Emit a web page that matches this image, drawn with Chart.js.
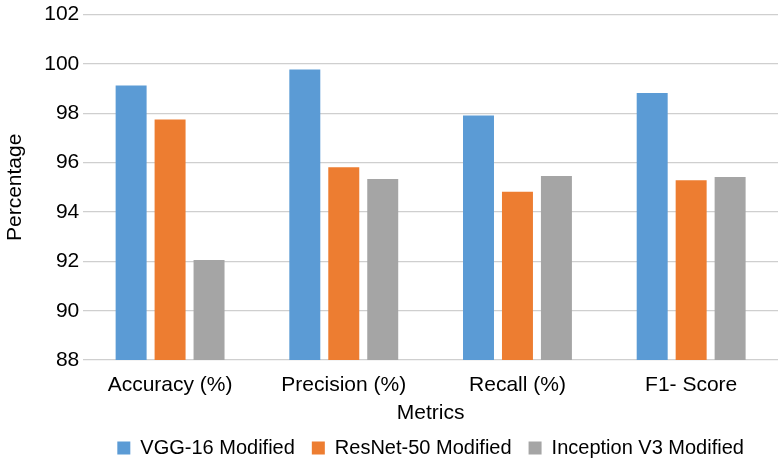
<!DOCTYPE html>
<html>
<head>
<meta charset="utf-8">
<script src="https://cdn.jsdelivr.net/npm/chart.js@4.4.1/dist/chart.umd.min.js"></script>
<style>
  html, body { margin: 0; padding: 0; background: #fff; }
  #wrap { width: 778px; height: 465px; position: relative; }
</style>
</head>
<body>
<div id="wrap"><canvas id="chart"></canvas></div>
<script>
// Metric categories along the x axis
const categories = ['Accuracy (%)', 'Precision (%)', 'Recall (%)', 'F1- Score'];

// Scores per model (percent)
const vgg16 = [99.12, 99.77, 97.91, 98.82];
const resnet50 = [97.75, 95.81, 94.82, 95.29];
const inceptionV3 = [92.05, 95.34, 95.46, 95.42];

const seriesNames = ['VGG-16 Modified', 'ResNet-50 Modified', 'Inception V3 Modified'];
const seriesColors = ['#5B9BD5', '#ED7D31', '#A5A5A5'];

// Y axis range and step
const yMin = 88;
const yMax = 102;
const yStep = 2;

const FONT = 'Liberation Sans, Arial, sans-serif';

new Chart(document.getElementById('chart'), {
  type: 'bar',
  data: {
    labels: categories,
    datasets: [vgg16, resnet50, inceptionV3].map((vals, i) => ({
      label: seriesNames[i],
      data: vals,
      backgroundColor: seriesColors[i],
      borderWidth: 0,
      categoryPercentage: 0.673,
      barPercentage: 0.795
    }))
  },
  options: {
    responsive: true,
    maintainAspectRatio: false,
    animation: false,
    events: [],
    layout: { padding: { top: 1, right: 0, bottom: -3, left: 0 } },
    plugins: {
      tooltip: { enabled: false },
      legend: {
        position: 'bottom',
        fullSize: false,
        labels: {
          font: { family: FONT, size: 20 },
          color: '#000',
          boxWidth: 13,
          boxHeight: 13,
          padding: 17
        }
      }
    },
    scales: {
      x: {
        grid: { display: false, drawTicks: false },
        border: { display: false },
        ticks: {
          font: { family: FONT, size: 21 },
          color: '#000',
          padding: 13,
          maxRotation: 0
        },
        title: {
          display: true,
          text: 'Metrics',
          font: { family: FONT, size: 21 },
          color: '#000',
          padding: { top: -11, bottom: -4.5 }
        }
      },
      y: {
        min: yMin,
        max: yMax,
        grid: { color: '#cfcfcf', lineWidth: 1.3, drawTicks: false },
        border: { display: false },
        ticks: {
          stepSize: yStep,
          font: { family: FONT, size: 21, lineHeight: 1.0 },
          color: '#000',
          padding: 4
        },
        title: {
          display: true,
          text: 'Percentage',
          font: { family: FONT, size: 21 },
          color: '#000',
          padding: { top: 3, bottom: 12 }
        }
      }
    }
  }
});
</script>
</body>
</html>
